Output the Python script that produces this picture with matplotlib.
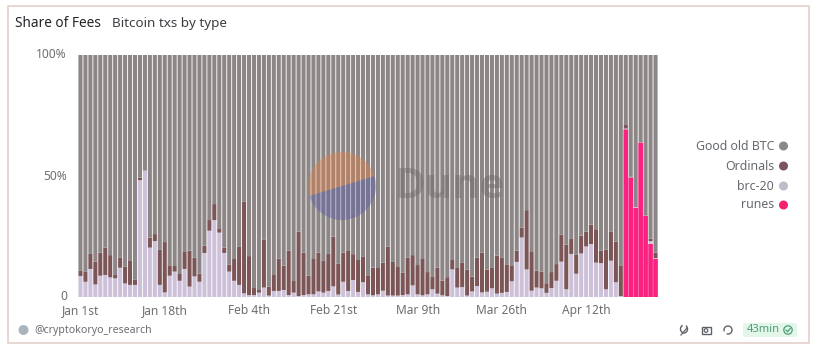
import matplotlib
matplotlib.use("Agg")
import matplotlib.pyplot as plt
import matplotlib.transforms as mtrans
import numpy as np
from matplotlib.patches import Rectangle, Wedge, FancyBboxPatch, Circle, Arc

plt.rcParams['font.family'] = ['Noto Sans', 'DejaVu Sans']

series_names = ["Good old BTC", "Ordinals", "brc-20", "runes"]
tick_labels = ["Jan 1st", "Jan 18th", "Feb 4th", "Feb 21st", "Mar 9th", "Mar 26th", "Apr 12th"]
tick_positions = [0, 17, 34, 51, 68, 85, 102]

brc20 = [8.7, 6.3, 11.6, 5.2, 8.8, 9.1, 8.1, 7.7, 12.1, 5.6, 5.0, 5.0, 48.3, 52.2, 20.4, 23.1, 5.0, 1.9, 8.8, 10.5,
         6.7, 11.6, 4.3, 8.5, 6.3, 18.2, 27.4, 31.8, 26.6, 18.2, 10.5, 6.7, 5.0, 1.5, 0.8, 0.8, 1.8, 3.9, 0.6, 2.5,
         2.5, 2.9, 0.8, 1.8, 0.4, 0.8, 1.1, 1.1, 2.3, 1.8, 2.5, 4.4, 1.0, 6.3, 2.5, 7.0, 2.1, 6.1, 1.1, 0.7,
         1.1, 2.6, 0.6, 0.6, 0.6, 0.8, 1.1, 4.8, 1.1, 0.7, 1.1, 3.2, 1.4, 0.7, 0.4, 11.4, 3.9, 4.1, 0.6, 2.3,
         4.5, 1.9, 2.2, 3.6, 1.4, 1.7, 2.1, 6.5, 14.5, 24.6, 11.4, 2.6, 3.9, 3.6, 1.7, 3.7, 6.7, 14.6, 3.2, 17.8,
         9.6, 18.0, 20.9, 21.9, 14.2, 14.0, 3.2, 15.0, 6.1, 0.4, 0.3, 0.1, 0.4, 0.1, 0.2, 1.2, 0.3]
ordinals = [2.1, 4.1, 6.2, 9.4, 9.5, 11.3, 9.2, 1.4, 4.1, 6.9, 9.9, 2.1, 1.0, 0.0, 4.1, 2.9, 14.5, 20.8, 4.3, 2.3,
            2.8, 7.0, 14.9, 7.7, 3.4, 3.0, 4.4, 6.6, 1.8, 2.2, 2.8, 9.0, 15.7, 38.0, 16.1, 2.9, 1.4, 19.7, 3.7, 6.6,
            13.4, 10.1, 18.3, 4.8, 26.6, 17.5, 7.7, 14.6, 16.0, 13.1, 15.3, 20.5, 12.7, 12.0, 16.8, 10.7, 13.2, 10.7, 7.6, 11.4,
            11.2, 11.6, 20.2, 13.9, 11.8, 9.2, 15.1, 12.5, 12.1, 15.0, 9.2, 5.1, 10.7, 6.1, 7.8, 3.9, 8.1, 10.2, 10.7, 6.1,
            11.7, 16.5, 9.1, 8.4, 15.7, 14.7, 11.4, 6.6, 4.7, 4.1, 24.5, 16.0, 7.0, 6.9, 4.0, 6.6, 6.9, 11.2, 18.5, 6.2,
            7.8, 7.4, 6.1, 8.0, 13.8, 5.1, 16.4, 12.1, 16.8, 12.7, 1.5, 0.2, 0.6, 0.1, 0.5, 1.0, 2.3]
runes = [0.0] * 110 + [69.3, 49.4, 36.9, 63.8, 33.5, 21.9, 15.8]

colors = {"Good old BTC": "#8d8686", "Ordinals": "#7c5557", "brc-20": "#cdc1d9", "runes": "#fb2180"}

W, H = 815, 358
fig = plt.figure(figsize=(W / 100, H / 100), dpi=100, facecolor="white")

bg = fig.add_axes([0, 0, 1, 1], zorder=0)
bg.set_xlim(0, W); bg.set_ylim(H, 0); bg.axis("off")
bg.add_patch(Rectangle((7.5, 5.5), 801, 337, fc="white", ec="#e2cdc6", lw=1.1))

left, right, top, bottom = 78, 658, 55, 297
ax = fig.add_axes([left / W, 1 - bottom / H, (right - left) / W, (bottom - top) / H], zorder=1)
ax.patch.set_alpha(0)
x = np.arange(len(brc20))
r = np.array(runes); b = np.array(brc20); o = np.array(ordinals)
btc = 100 - r - b - o
bw = 0.82
containers = [
    ax.bar(x, r, width=0.94, color=colors["runes"], lw=0),
    ax.bar(x, b, bottom=r, width=bw, color=colors["brc-20"], lw=0),
    ax.bar(x, o, bottom=r + b, width=bw, color=colors["Ordinals"], lw=0),
    ax.bar(x, btc, bottom=r + b + o, width=bw, color=colors["Good old BTC"], lw=0),
]
for cont in containers:
    for p in cont:
        p.set_snap(False)
ax.set_xlim(-0.5, len(x) - 0.5)
ax.set_ylim(0, 100)
ax.set_yticks([0, 50, 100], ["0", "50%", "100%"])
ax.set_xticks(tick_positions, tick_labels)
ax.tick_params(length=0, labelsize=8.6, labelcolor="#6f6f6f")
ax.tick_params(axis="x", pad=5)
ax.tick_params(axis="y", pad=8)
shift_up = mtrans.ScaledTranslation(0, 1.5 / 100, fig.dpi_scale_trans)
for lab in ax.get_yticklabels():
    lab.set_transform(lab.get_transform() + shift_up)
for s in ax.spines.values():
    s.set_visible(False)

ov = fig.add_axes([0, 0, 1, 1], zorder=2)
ov.set_xlim(0, W); ov.set_ylim(H, 0); ov.axis("off"); ov.patch.set_alpha(0)

cx, cy, rad = 342, 186, 34
ov.add_patch(Wedge((cx, cy), rad, 163, 343, fc="#ee7f3c", alpha=0.36, lw=0))
ov.add_patch(Wedge((cx, cy), rad, 343, 523, fc="#4f55a8", alpha=0.36, lw=0))
ov.text(394, 187, "Dune", fontsize=30, fontweight="bold", color="#6f6868", alpha=0.42,
        ha="left", va="center", family="Open Sans")

ov.text(15, 23.5, "Share of Fees", fontsize=9.8, color="#222428", fontweight="medium", va="center", ha="left")
ov.text(112, 23.5, "Bitcoin txs by type", fontsize=9.7, color="#3c3f44", va="center", ha="left")

legend_y = [146, 166, 186, 205]
dot_colors = ["#8a8888", "#7a5560", "#bdbccb", "#f7206f"]
for name, yy, c in zip(series_names, legend_y, dot_colors):
    ov.text(774, yy, name, fontsize=8.9, color="#666a70", ha="right", va="center")
    ov.add_patch(Circle((783.5, yy), 4.5, fc=c, lw=0))

ov.add_patch(Circle((23.5, 330), 5, fc="#a9b4bd", lw=0))
ov.text(34, 330, "@cryptokoryo_research", fontsize=7.6, color="#6a6d72", ha="left", va="center")

ov.add_patch(Arc((684, 329), 7, 8, theta1=-60, theta2=250, ec="#5f6368", lw=1))
ov.plot([681, 687], [335, 328], color="#5f6368", lw=0.9)
ov.add_patch(Rectangle((701.5, 327), 9, 7, fc="none", ec="#5f6368", lw=1))
ov.add_patch(Circle((706, 330.5), 1.8, fc="none", ec="#5f6368", lw=0.9))
ov.add_patch(Arc((728, 330), 8, 8, theta1=-200, theta2=110, ec="#5f6368", lw=1))
ov.add_patch(FancyBboxPatch((743, 323), 54, 14, boxstyle="round,pad=0,rounding_size=3", fc="#e2f6ea", lw=0))
ov.text(747, 330, "43min", fontsize=8, color="#4f9e78", ha="left", va="center")
ov.add_patch(Circle((788, 330), 4.2, fc="none", ec="#4f9e78", lw=0.9))
ov.plot([786, 787.6, 790.2], [330, 331.8, 328.4], color="#4f9e78", lw=0.9)

fig.savefig("out.png", dpi=100, facecolor="white")
